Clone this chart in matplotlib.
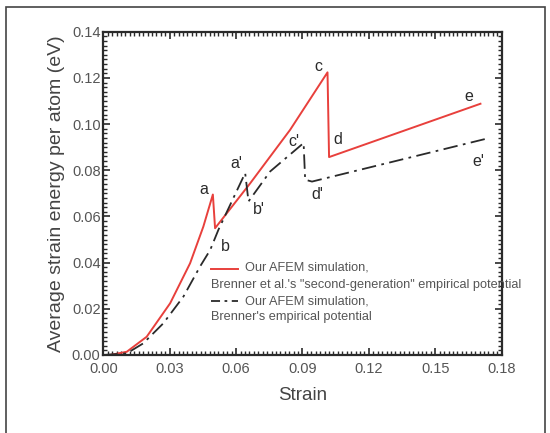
import numpy as np
import matplotlib
matplotlib.use("Agg")
import matplotlib.pyplot as plt
from matplotlib.lines import Line2D
from matplotlib.patches import Rectangle
from matplotlib.ticker import MultipleLocator

plt.rcParams["font.family"] = ["Liberation Sans", "DejaVu Sans"]

# courbe rouge : Brenner "second-generation"
red_strain = [0.0, 0.003, 0.0106, 0.0196, 0.0302, 0.0392, 0.0452, 0.0495,
              0.0505, 0.0664, 0.0844, 0.1013, 0.102, 0.1704]
red_energy = [0.0, 0.0, 0.0014, 0.0079, 0.0224, 0.0397, 0.0556, 0.0695,
              0.0549, 0.0744, 0.0975, 0.1224, 0.0857, 0.1088]

# courbe tiret-point : Brenner
blk_strain = [0.0, 0.0106, 0.018, 0.0271, 0.0362, 0.0437, 0.0483, 0.052,
              0.0641, 0.0656, 0.0754, 0.0905, 0.0912, 0.0943, 0.1741]
blk_energy = [0.0, 0.0007, 0.005, 0.0137, 0.0253, 0.0383, 0.0455, 0.0542,
              0.0788, 0.0665, 0.0795, 0.0918, 0.0759, 0.0751, 0.0939]

# etiquettes des points
point_labels = ["a", "b", "a'", "b'", "c", "c'", "d", "d'", "e", "e'"]
point_x = [0.0452, 0.0552, 0.0603, 0.0701, 0.0973, 0.0859, 0.1058, 0.0965, 0.1651, 0.1696]
point_y = [0.0718, 0.0470, 0.0831, 0.0629, 0.1250, 0.0925, 0.0932, 0.0694, 0.1120, 0.0838]

legend_lines = ["Our AFEM simulation,",
                "Brenner et al.'s \"second-generation\" empirical potential",
                "Our AFEM simulation,",
                "Brenner's empirical potential"]

RED, DARK, GREY = "#e8403c", "#2a2a2a", "#555555"

fig = plt.figure(figsize=(5.5, 4.33), dpi=100)
W, H = 550, 433
ax = fig.add_axes([103.3 / W, 1 - 355 / H, 398.4 / W, 323.3 / H])

ax.plot(red_strain, red_energy, color=RED, lw=1.4)
ax.plot(blk_strain, blk_energy, color=DARK, lw=1.3, ls=(0, (8, 3, 1.5, 3)))

for lab, x, y in zip(point_labels, point_x, point_y):
    ax.text(x, y, lab, fontsize=11.5, color=DARK, ha="center", va="center")

ax.set_xlim(0, 0.18)
ax.set_ylim(0, 0.14)
ax.xaxis.set_major_locator(MultipleLocator(0.03))
ax.xaxis.set_minor_locator(MultipleLocator(0.002))
ax.yaxis.set_major_locator(MultipleLocator(0.02))
ax.yaxis.set_minor_locator(MultipleLocator(0.002))
ax.xaxis.set_major_formatter(lambda v, p: f"{v:.2f}")
ax.yaxis.set_major_formatter(lambda v, p: f"{v:.2f}")
ax.tick_params(which="both", direction="in", top=True, right=True, color=DARK)
ax.tick_params(which="major", length=5, width=1.2, labelsize=10.5,
               labelcolor=GREY)
ax.tick_params(axis="x", which="major", pad=5)
ax.tick_params(axis="y", which="major", pad=2)
ax.tick_params(which="minor", length=3, width=1.0)
for s in ax.spines.values():
    s.set_linewidth(1.6)
    s.set_color(DARK)

ax.set_xlabel("Strain", fontsize=13.5, color="#444444", labelpad=8)
ax.set_ylabel("Average strain energy per atom (eV)", fontsize=14,
              color="#444444", labelpad=5)

# legende manuelle
fig.add_artist(Line2D([211 / W, 238 / W], [1 - 268.5 / H] * 2, color=RED, lw=1.4))
fig.add_artist(Line2D([211 / W, 238 / W], [1 - 301 / H] * 2, color=DARK, lw=1.3,
                      ls=(0, (5, 2.5, 1.5, 2.5))))
for txt, x, y in zip(legend_lines, [245, 211, 245, 211], [268, 285, 301, 317]):
    fig.text(x / W, 1 - y / H, txt, fontsize=9.2, color=GREY, va="center", ha="left")

# cadre exterieur
fig.add_artist(Rectangle((6 / W, -0.02), 539 / W, 1.02 - 7 / H,
                         transform=fig.transFigure, fill=False,
                         edgecolor="#444444", lw=1.2))

fig.savefig("out.png", dpi=100)
